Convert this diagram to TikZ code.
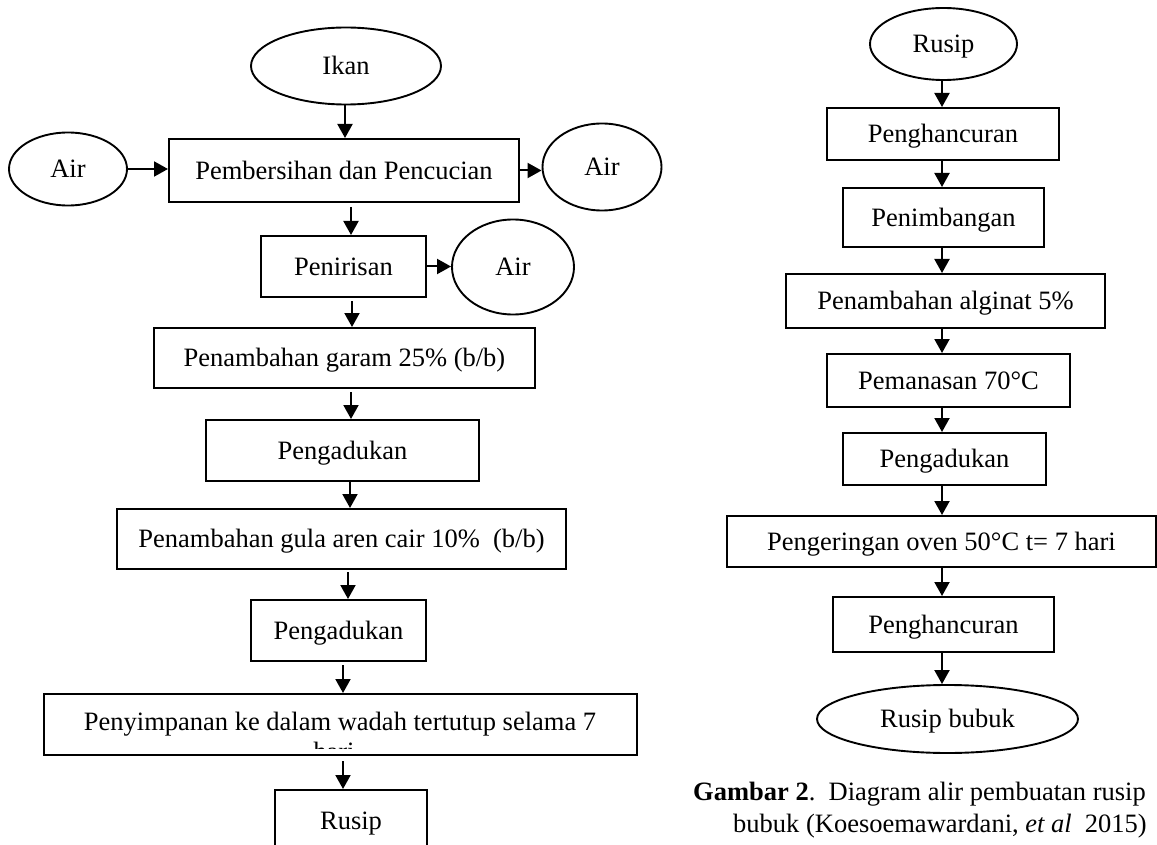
\documentclass[tikz,border=0pt]{standalone}
\usepackage{fontspec}
\setmainfont{Liberation Serif}
\usetikzlibrary{shapes.geometric,arrows.meta}
\tikzset{
  box/.style={draw, line width=2pt, rectangle, inner sep=0pt, text height=17.5pt, text depth=0pt},
  oval/.style={draw, ellipse, line width=1.9pt, inner sep=0pt, text height=17.5pt, text depth=0pt},
  arr/.style={-{Triangle[length=14pt,width=15pt]}, line width=2pt},
  captext/.style={anchor=base west, inner sep=0pt}
}
\begin{document}
\begin{tikzpicture}[x=1pt, y=-1pt, font=\fontsize{26.5}{32}\selectfont]
\clip (0,0) rectangle (1157,845);
\fill[white] (0,0) rectangle (1157,845);
% ---------- left diagram ----------
\node[oval, minimum width=190, minimum height=77] (ikan) at (346,66) {Ikan};
\node[oval, minimum width=118, minimum height=73] (air1) at (68,169) {Air};
\node[box, minimum width=350, minimum height=63] (bersih) at (344,170.5) {Pembersihan dan Pencucian};
\node[oval, minimum width=119, minimum height=87] (air2) at (602,167) {Air};
\node[box, minimum width=165, minimum height=61] (tiris) at (343.5,266.5) {Penirisan};
\node[oval, minimum width=122, minimum height=95] (air3) at (513,267) {Air};
\node[box, minimum width=381, minimum height=60] (garam) at (344.5,358) {Penambahan garam 25\%\ (b/b)};
\node[box, minimum width=273, minimum height=61] (aduk1) at (342.5,450.5) {Pengadukan};
\node[box, minimum width=449, minimum height=60] (gula) at (341.5,539) {Penambahan gula aren cair 10\%\ \ (b/b)};
\node[box, minimum width=175, minimum height=61] (aduk2) at (338.5,630.5) {Pengadukan};
\node[box, minimum width=593, minimum height=61] (simpan) at (340.5,724.5) {};
\begin{scope}
  \clip (simpan.north west) rectangle (simpan.east |- 0,748.5);
  \node[anchor=base, inner sep=0pt] (simpanA) at (340,730) {Penyimpanan ke dalam wadah tertutup selama 7};
  \node[anchor=base, inner sep=0pt] (simpanB) at (334,760) {hari};
\end{scope}
\node[box, minimum width=152, minimum height=62] (rusipL) at (351,821) {Rusip};

\draw[arr] (ikan.south -| 345,0) -- (bersih.north -| 345,0);
\draw[arr] (air1.east) -- (air1.east -| bersih.west);
\draw[arr] (bersih.east) -- (bersih.east -| air2.west);
\draw[arr, shorten <=4pt] (bersih.south -| 351,0) -- (tiris.north -| 351,0);
\draw[arr] (tiris.east) -- (tiris.east -| air3.west);
\draw[arr, shorten <=3pt] (tiris.south -| 352,0) -- (garam.north -| 352,0);
\draw[arr, shorten <=3pt] (garam.south -| 351,0) -- (aduk1.north -| 351,0);
\draw[arr] (aduk1.south -| 350,0) -- (gula.north -| 350,0);
\draw[arr, shorten <=2pt] (gula.south -| 348,0) -- (aduk2.north -| 348,0);
\draw[arr, shorten <=3pt] (aduk2.south -| 343,0) -- (simpan.north -| 343,0);
\draw[arr, shorten <=5pt] (simpan.south -| 343,0) -- (rusipL.north -| 343,0);

% ---------- right diagram ----------
\node[oval, minimum width=147, minimum height=72] (rusipR) at (943.5,44) {Rusip};
\node[box, minimum width=232, minimum height=52] (hancur1) at (943,134) {Penghancuran};
\node[box, minimum width=201, minimum height=59] (timbang) at (943.5,217.5) {Penimbangan};
\node[box, minimum width=319, minimum height=54] (alginat) at (945.5,301) {Penambahan alginat 5\%};
\node[box, minimum width=243, minimum height=53] (panas) at (948.5,380.5) {Pemanasan 70°C};
\node[box, minimum width=203, minimum height=52] (aduk3) at (944.5,459) {Pengadukan};
\node[box, minimum width=429, minimum height=51] (kering) at (941.5,541.5) {Pengeringan oven 50°C t= 7 hari};
\node[box, minimum width=221, minimum height=55] (hancur2) at (943.5,624.5) {Penghancuran};
\node[oval, minimum width=261, minimum height=68] (bubuk) at (947.5,719) {Rusip bubuk};

\draw[arr] (rusipR.south -| 942,0) -- (hancur1.north -| 942,0);
\draw[arr] (hancur1.south -| 942,0) -- (timbang.north -| 942,0);
\draw[arr] (timbang.south -| 942,0) -- (alginat.north -| 942,0);
\draw[arr] (alginat.south -| 942,0) -- (panas.north -| 942,0);
\draw[arr] (panas.south -| 942,0) -- (aduk3.north -| 942,0);
\draw[arr] (aduk3.south -| 942,0) -- (kering.north -| 942,0);
\draw[arr] (kering.south -| 942,0) -- (hancur2.north -| 942,0);
\draw[arr] (hancur2.south -| 942,0) -- (bubuk.north -| 942,0);

% ---------- caption ----------
\node[captext] (cap1) at (693,800) {\textbf{Gambar 2}.\ \ Diagram alir pembuatan rusip};
\node[captext] (cap2) at (733,832) {bubuk (Koesoemawardani, \textit{et al}\ \ 2015)};
\end{tikzpicture}
\end{document}
